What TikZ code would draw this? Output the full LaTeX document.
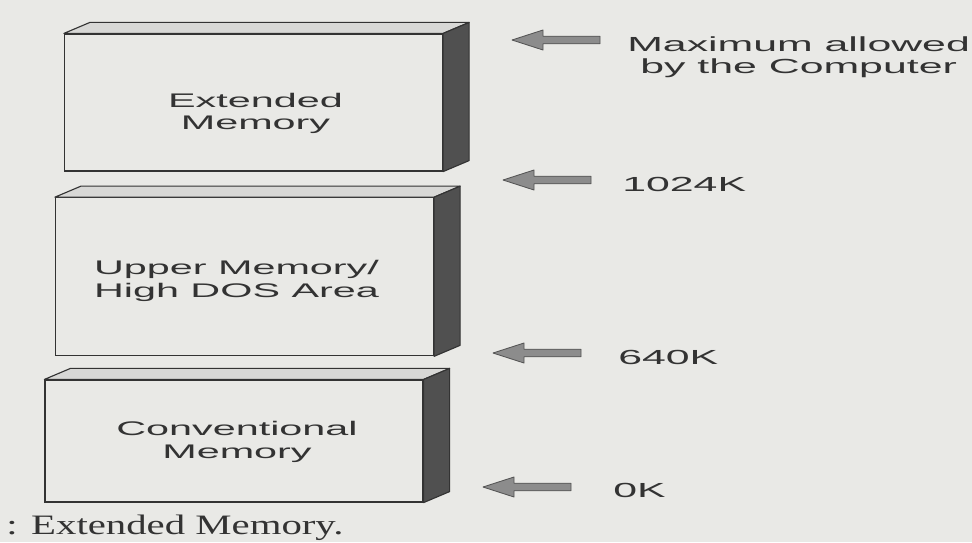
\documentclass[tikz,border=0pt]{standalone}
\usepackage{fontspec}
\usepackage{tikz}
\usetikzlibrary{calc,positioning}
\newfontfamily\memfont[FakeStretch=2.1]{Liberation Sans}
\newfontfamily\capfont[FakeStretch=1.45]{Liberation Serif}
\definecolor{paper}{HTML}{E9E9E6}
\definecolor{sideface}{HTML}{505050}
\definecolor{topface}{HTML}{D8D8D6}
\definecolor{inkgray}{HTML}{333333}
\definecolor{arrowgray}{HTML}{8C8C8C}

\begin{document}
\begin{tikzpicture}[x=0.025cm,y=-0.025cm,
  membox/.style={draw=inkgray,line width=0.8pt,fill=paper,minimum width=9.45cm,inner sep=0pt},
  memtext/.style={align=center,text=inkgray,inner sep=0pt,
                  font=\memfont\fontsize{14}{16}\selectfont},
  depth/.style={draw=inkgray,line width=0.8pt,line join=round},
  addr/.style={anchor=west,inner sep=0pt,text=inkgray,align=center,
               font=\memfont\fontsize{14.5}{16}\selectfont},
  ptr/.pic={\draw[fill=arrowgray,draw=arrowgray!60!black,line width=0.6pt,line join=round]
    (0,0) -- (31,-10) -- (31,-3.8) -- (88,-3.8) -- (88,3.8) -- (31,3.8) -- (31,10) -- cycle;}]
  \useasboundingbox[fill=paper] (0,0) rectangle (972,542);
  % the three memory blocks
  \node[membox,minimum height=3.425cm] (ext) at (253.5,102.5) {};
  \node[membox,minimum height=3.95cm] (upm) at (244.5,276.75) {};
  \node[membox,minimum height=3.05cm] (conv) at (234,441) {};
  \foreach \b in {ext,upm,conv}{
    \filldraw[depth,fill=topface] (\b.north west) -- ++(26,-11) --
      ($(\b.north east)+(26,-11)$) -- (\b.north east) -- cycle;
    \filldraw[depth,fill=sideface] (\b.north east) -- ++(26,-11) --
      ($(\b.south east)+(26,-11)$) -- (\b.south east) -- cycle;
  }
  \node[memtext] (exttxt) at ($(ext.center)+(2,11)$) {Extended\\Memory};
  \node[memtext] (upmtxt) at ($(upm.center)+(-8,4)$) {Upper Memory/\\High DOS Area};
  \node[memtext] (convtxt) at ($(conv.center)+(3,1)$) {Conventional\\Memory};
  % address marks
  \node[addr] (maxmem) at (627,57) {Maximum allowed\\by the Computer};
  \node[addr] (k1024) at (622,184) {1024K};
  \node[addr] (k640) at (618,357) {640K};
  \node[addr] (k0) at (613,490) {0K};
  \pic at (512,40) {ptr};
  \pic at (503,180) {ptr};
  \pic at (493,353) {ptr};
  \pic at (483,487) {ptr};
  \node[anchor=base west,inner sep=0pt,text=inkgray,
        font=\capfont\fontsize{20}{22}\selectfont] (capt) at (6,534) {: Extended Memory.};
\end{tikzpicture}
\end{document}
